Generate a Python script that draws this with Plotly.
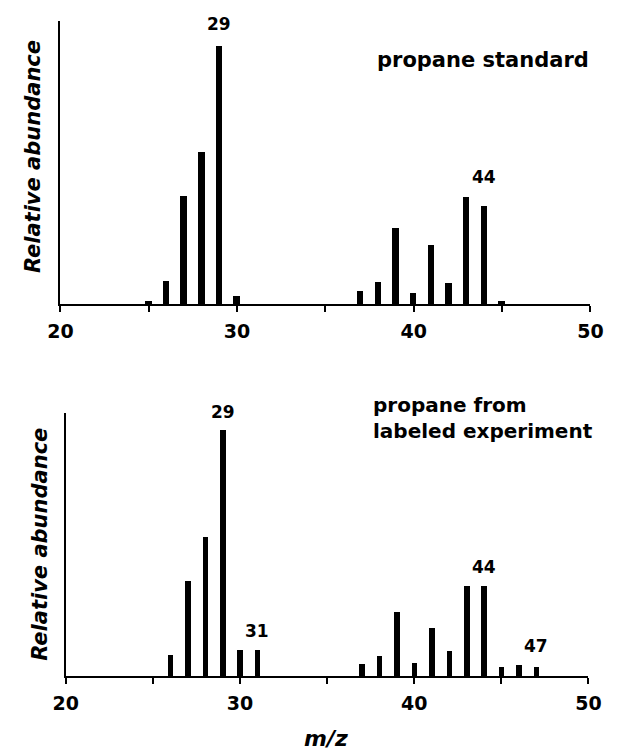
import plotly.graph_objects as go

# ---- data ----
mz_std = [25, 26, 27, 28, 29, 30, 37, 38, 39, 40, 41, 42, 43, 44, 45]
ab_std = [1.0, 9.0, 41.7, 58.9, 100, 3.0, 5.2, 8.7, 29.3, 4.1, 22.9, 8.0, 41.6, 37.9, 1.3]

mz_lab = [26, 27, 28, 29, 30, 31, 37, 38, 39, 40, 41, 42, 43, 44, 45, 46, 47]
ab_lab = [8.6, 38.5, 56.6, 100, 10.6, 10.6, 4.8, 8.2, 26.0, 5.3, 19.4, 10.0, 36.8, 36.8, 3.7, 4.4, 3.8]

peaks_std = [29, 44]
peaks_lab = [29, 31, 44, 47]

tick_vals = [20, 25, 30, 35, 40, 45, 50]
tick_text = ["20", "", "30", "", "40", "", "50"]

W, H = 619, 750
FONT = "DejaVu Sans"

fig = go.Figure()
fig.add_trace(go.Bar(x=mz_std, y=ab_std, width=0.36, marker=dict(color="black", line_width=0),
                     xaxis="x", yaxis="y", showlegend=False))
fig.add_trace(go.Bar(x=mz_lab, y=ab_lab, width=0.32, marker=dict(color="black", line_width=0),
                     xaxis="x2", yaxis="y2", showlegend=False))


def px_x(p):
    return p / W


def px_y(p):
    return 1 - p / H


xcommon = dict(range=[20, 50], tickmode="array", tickvals=tick_vals, ticktext=tick_text,
               ticks="outside", ticklen=6, tickwidth=2, tickcolor="black",
               showline=True, linecolor="black", linewidth=2, showgrid=False, zeroline=False,
               tickfont=dict(family=FONT, size=19, color="black", weight="bold"),
               ticklabelstandoff=3)
ycommon = dict(showticklabels=False, ticks="", showline=True, linecolor="black", linewidth=2,
               showgrid=False, zeroline=False)

fig.update_layout(
    width=W, height=H,
    margin=dict(l=0, r=0, t=0, b=0),
    paper_bgcolor="white", plot_bgcolor="white",
    bargap=0,
    xaxis=dict(domain=[px_x(49.5), px_x(602.7)], anchor="y", **xcommon),
    yaxis=dict(domain=[px_y(304), px_y(21)], anchor="x", range=[0, 109.7], **ycommon),
    xaxis2=dict(domain=[px_x(55), px_x(600.7)], anchor="y2", **xcommon),
    yaxis2=dict(domain=[px_y(676), px_y(413)], anchor="x2", range=[0, 107.1], **ycommon),
)

ann = []
# peak labels
shifts_std = {29: 22, 44: 29}
for m in peaks_std:
    v = ab_std[mz_std.index(m)]
    ann.append(dict(x=m, y=v, xref="x", yref="y", text=f"<b>{m}</b>", showarrow=False,
                    yshift=shifts_std[m], font=dict(family=FONT, size=17, color="black")))
shifts_lab = {29: 18, 31: 19, 44: 19, 47: 21}
for m in peaks_lab:
    v = ab_lab[mz_lab.index(m)]
    ann.append(dict(x=m, y=v, xref="x2", yref="y2", text=f"<b>{m}</b>", showarrow=False,
                    yshift=shifts_lab[m], font=dict(family=FONT, size=17, color="black")))

# panel titles
ann.append(dict(x=px_x(491), y=px_y(60), xref="paper", yref="paper", text="<b>propane standard</b>",
                showarrow=False, xanchor="center", yanchor="middle",
                font=dict(family=FONT, size=21, color="black")))
ann.append(dict(x=px_x(374), y=px_y(418), xref="paper", yref="paper",
                text="<b>propane from<br>labeled experiment</b>",
                showarrow=False, xanchor="left", yanchor="middle", align="left",
                font=dict(family=FONT, size=20, color="black")))

# y-axis titles
ann.append(dict(x=px_x(21), y=px_y(157), xref="paper", yref="paper", text="<b><i>Relative abundance</i></b>",
                showarrow=False, textangle=-90, xanchor="center", yanchor="middle",
                font=dict(family=FONT, size=21, color="black")))
ann.append(dict(x=px_x(28), y=px_y(544), xref="paper", yref="paper", text="<b><i>Relative abundance</i></b>",
                showarrow=False, textangle=-90, xanchor="center", yanchor="middle",
                font=dict(family=FONT, size=21, color="black")))
# x-axis title
ann.append(dict(x=px_x(327), y=px_y(738), xref="paper", yref="paper", text="<b><i>m/z</i></b>",
                showarrow=False, xanchor="center", yanchor="middle",
                font=dict(family=FONT, size=22, color="black")))

fig.update_layout(annotations=ann)
fig.write_html("out.html")
